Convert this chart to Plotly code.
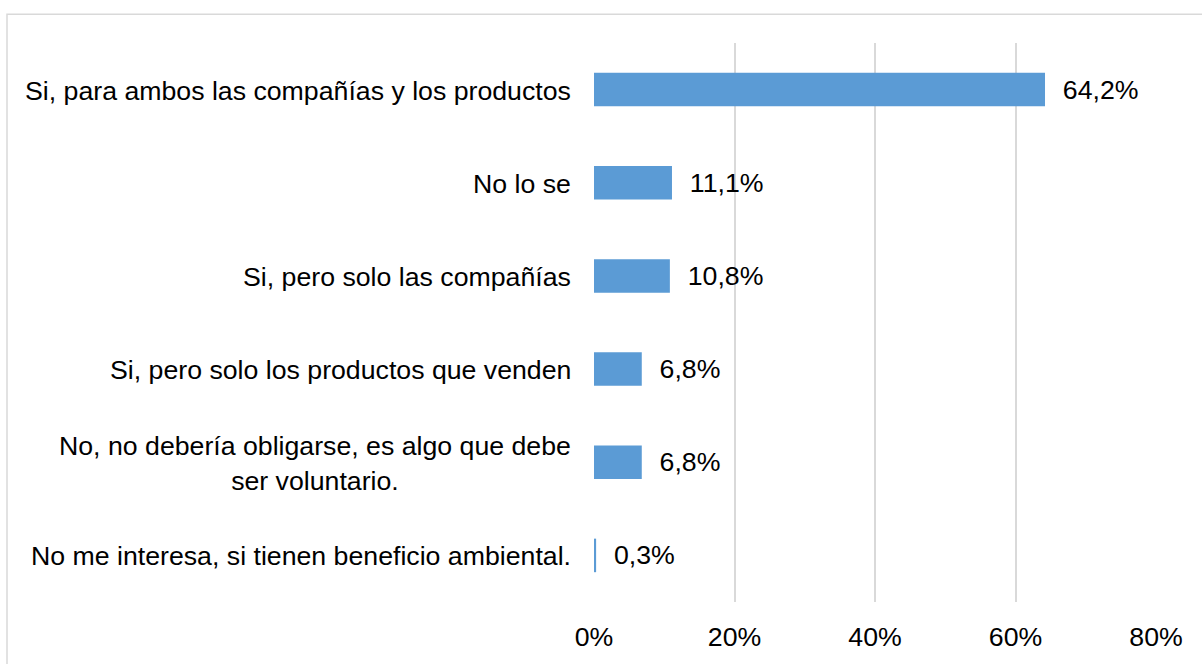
import plotly.graph_objects as go

categories = [
    "Si, para ambos las compañías y los productos",
    "No lo se",
    "Si, pero solo las compañías",
    "Si, pero solo los productos que venden",
    "No, no debería obligarse, es algo que debe<br>ser voluntario.",
    "No me interesa, si tienen beneficio ambiental.",
]
values = [64.2, 11.1, 10.8, 6.8, 6.8, 0.3]
value_labels = ["64,2%", "11,1%", "10,8%", "6,8%", "6,8%", "0,3%"]
x_ticks = [0, 20, 40, 60, 80]
x_tick_labels = ["0%", "20%", "40%", "60%", "80%"]

FONT = "Liberation Sans, Arial, sans-serif"
FS = 26.7

fig = go.Figure()
fig.add_trace(go.Bar(
    x=values,
    y=list(range(len(categories))),
    orientation="h",
    marker=dict(color="#5B9BD5", line=dict(width=0)),
    width=0.36,
    text=["\u00a0\u00a0" + t for t in value_labels],
    textposition="outside",
    textfont=dict(family=FONT, size=FS, color="#000000"),
    cliponaxis=False,
    hoverinfo="skip",
))

for i, c in enumerate(categories):
    fig.add_annotation(
        x=0, xref="paper", y=i, yref="y",
        text=c, showarrow=False, xanchor="right", yanchor="middle",
        xshift=-21, yshift=-1, align="center",
        font=dict(family=FONT, size=FS, color="#000000"),
    )

# chart border
fig.add_shape(type="rect", xref="paper", yref="paper",
              x0=(7 - 594) / 562, x1=(1215 - 594) / 562,
              y0=(607 - 680) / 565, y1=(607 - 13) / 565,
              line=dict(color="#D9D9D9", width=1.5), layer="below")

fig.update_layout(
    width=1202, height=664,
    margin=dict(l=594, r=46, t=43, b=57),
    paper_bgcolor="white", plot_bgcolor="white",
    showlegend=False,
    xaxis=dict(
        range=[0, 80], tickvals=x_ticks, ticktext=x_tick_labels,
        showgrid=True, gridcolor="#D9D9D9", gridwidth=1.5,
        zeroline=False, showline=False,
        tickfont=dict(family=FONT, size=FS, color="#000000"),
        ticklabelstandoff=16,
    ),
    yaxis=dict(
        range=[5.5, -0.5], showticklabels=False, showgrid=False,
        zeroline=False, showline=False,
    ),
)

fig.write_html(
    "out.html",
    config={"displayModeBar": False},
    post_script="document.body.style.margin='0';document.body.style.padding='0';",
)
